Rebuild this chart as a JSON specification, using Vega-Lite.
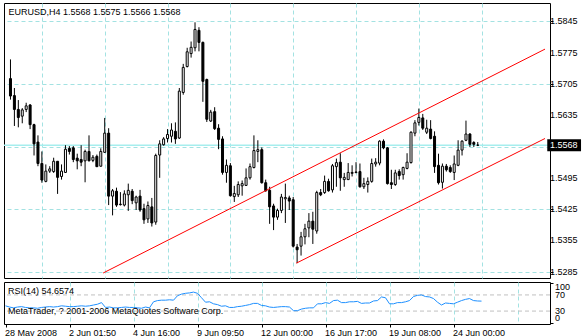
{
  "$schema": "https://vega.github.io/schema/vega-lite/v6.json",
  "padding": {"left": 2, "top": 2, "right": 0, "bottom": 0},
  "background": "#ffffff",
  "spacing": 4,
  "bounds": "flush",
  "config": {
    "view": {"stroke": "#000000", "strokeWidth": 1},
    "font": "Liberation Sans",
    "axis": {"labelFont": "Liberation Sans", "labelFontSize": 9, "labelColor": "#000000", "tickColor": "#000000", "domain": false, "title": null, "labelFlush": false, "labelOverlap": false}
  },
  "datasets": {
    "candles": [
      {"bar":0,"open":1.5717,"high":1.5760,"low":1.5670,"close":1.5678},
      {"bar":1,"open":1.5679,"high":1.5696,"low":1.5611,"close":1.5648},
      {"bar":2,"open":1.5648,"high":1.5669,"low":1.5608,"close":1.5630},
      {"bar":3,"open":1.5633,"high":1.5651,"low":1.5617,"close":1.5647},
      {"bar":4,"open":1.5648,"high":1.5663,"low":1.5642,"close":1.5656},
      {"bar":5,"open":1.5658,"high":1.5660,"low":1.5604,"close":1.5614},
      {"bar":6,"open":1.5614,"high":1.5616,"low":1.5545,"close":1.5571},
      {"bar":7,"open":1.5575,"high":1.5590,"low":1.5521,"close":1.5527},
      {"bar":8,"open":1.5527,"high":1.5554,"low":1.5484,"close":1.5490},
      {"bar":9,"open":1.5487,"high":1.5525,"low":1.5485,"close":1.5510},
      {"bar":10,"open":1.5510,"high":1.5521,"low":1.5506,"close":1.5515},
      {"bar":11,"open":1.5509,"high":1.5540,"low":1.5506,"close":1.5532},
      {"bar":12,"open":1.5532,"high":1.5532,"low":1.5459,"close":1.5496},
      {"bar":13,"open":1.5498,"high":1.5525,"low":1.5491,"close":1.5510},
      {"bar":14,"open":1.5507,"high":1.5568,"low":1.5506,"close":1.5559},
      {"bar":15,"open":1.5561,"high":1.5566,"low":1.5547,"close":1.5554},
      {"bar":16,"open":1.5562,"high":1.5566,"low":1.5530,"close":1.5536},
      {"bar":17,"open":1.5539,"high":1.5549,"low":1.5514,"close":1.5533},
      {"bar":18,"open":1.5536,"high":1.5568,"low":1.5521,"close":1.5530},
      {"bar":19,"open":1.5533,"high":1.5558,"low":1.5485,"close":1.5554},
      {"bar":20,"open":1.5554,"high":1.5590,"low":1.5532,"close":1.5533},
      {"bar":21,"open":1.5534,"high":1.5546,"low":1.5530,"close":1.5541},
      {"bar":22,"open":1.5543,"high":1.5547,"low":1.5519,"close":1.5520},
      {"bar":23,"open":1.5521,"high":1.5561,"low":1.5520,"close":1.5554},
      {"bar":24,"open":1.5552,"high":1.5629,"low":1.5551,"close":1.5595},
      {"bar":25,"open":1.5595,"high":1.5606,"low":1.5434,"close":1.5454},
      {"bar":26,"open":1.5454,"high":1.5470,"low":1.5411,"close":1.5466},
      {"bar":27,"open":1.5465,"high":1.5473,"low":1.5430,"close":1.5434},
      {"bar":28,"open":1.5436,"high":1.5463,"low":1.5433,"close":1.5435},
      {"bar":29,"open":1.5434,"high":1.5467,"low":1.5431,"close":1.5459},
      {"bar":30,"open":1.5457,"high":1.5482,"low":1.5421,"close":1.5467},
      {"bar":31,"open":1.5465,"high":1.5470,"low":1.5436,"close":1.5444},
      {"bar":32,"open":1.5439,"high":1.5455,"low":1.5423,"close":1.5452},
      {"bar":33,"open":1.5454,"high":1.5468,"low":1.5419,"close":1.5423},
      {"bar":34,"open":1.5426,"high":1.5437,"low":1.5392,"close":1.5401},
      {"bar":35,"open":1.5403,"high":1.5442,"low":1.5394,"close":1.5433},
      {"bar":36,"open":1.5430,"high":1.5450,"low":1.5386,"close":1.5394},
      {"bar":37,"open":1.5396,"high":1.5549,"low":1.5390,"close":1.5545},
      {"bar":38,"open":1.5546,"high":1.5579,"low":1.5495,"close":1.5571},
      {"bar":39,"open":1.5569,"high":1.5586,"low":1.5567,"close":1.5582},
      {"bar":40,"open":1.5583,"high":1.5604,"low":1.5574,"close":1.5592},
      {"bar":41,"open":1.5588,"high":1.5617,"low":1.5574,"close":1.5602},
      {"bar":42,"open":1.5599,"high":1.5619,"low":1.5571,"close":1.5582},
      {"bar":43,"open":1.5584,"high":1.5696,"low":1.5582,"close":1.5689},
      {"bar":44,"open":1.5686,"high":1.5750,"low":1.5681,"close":1.5742},
      {"bar":45,"open":1.5744,"high":1.5786,"low":1.5742,"close":1.5777},
      {"bar":46,"open":1.5773,"high":1.5800,"low":1.5764,"close":1.5787},
      {"bar":47,"open":1.5786,"high":1.5843,"low":1.5778,"close":1.5827},
      {"bar":48,"open":1.5825,"high":1.5832,"low":1.5778,"close":1.5798},
      {"bar":49,"open":1.5798,"high":1.5800,"low":1.5665,"close":1.5711},
      {"bar":50,"open":1.5715,"high":1.5717,"low":1.5620,"close":1.5626},
      {"bar":51,"open":1.5622,"high":1.5647,"low":1.5620,"close":1.5642},
      {"bar":52,"open":1.5643,"high":1.5653,"low":1.5602,"close":1.5605},
      {"bar":53,"open":1.5606,"high":1.5615,"low":1.5559,"close":1.5581},
      {"bar":54,"open":1.5582,"high":1.5588,"low":1.5502,"close":1.5507},
      {"bar":55,"open":1.5507,"high":1.5536,"low":1.5484,"close":1.5523},
      {"bar":56,"open":1.5522,"high":1.5528,"low":1.5453,"close":1.5455},
      {"bar":57,"open":1.5453,"high":1.5477,"low":1.5441,"close":1.5460},
      {"bar":58,"open":1.5457,"high":1.5487,"low":1.5452,"close":1.5480},
      {"bar":59,"open":1.5477,"high":1.5489,"low":1.5455,"close":1.5482},
      {"bar":60,"open":1.5478,"high":1.5516,"low":1.5477,"close":1.5495},
      {"bar":61,"open":1.5495,"high":1.5527,"low":1.5491,"close":1.5520},
      {"bar":62,"open":1.5518,"high":1.5590,"low":1.5516,"close":1.5556},
      {"bar":63,"open":1.5554,"high":1.5579,"low":1.5530,"close":1.5558},
      {"bar":64,"open":1.5558,"high":1.5563,"low":1.5482,"close":1.5484},
      {"bar":65,"open":1.5484,"high":1.5491,"low":1.5464,"close":1.5466},
      {"bar":66,"open":1.5467,"high":1.5475,"low":1.5392,"close":1.5430},
      {"bar":67,"open":1.5432,"high":1.5437,"low":1.5378,"close":1.5407},
      {"bar":68,"open":1.5407,"high":1.5426,"low":1.5401,"close":1.5422},
      {"bar":69,"open":1.5422,"high":1.5459,"low":1.5416,"close":1.5452},
      {"bar":70,"open":1.5448,"high":1.5482,"low":1.5394,"close":1.5451},
      {"bar":71,"open":1.5450,"high":1.5455,"low":1.5423,"close":1.5443},
      {"bar":72,"open":1.5446,"high":1.5452,"low":1.5339,"close":1.5342},
      {"bar":73,"open":1.5340,"high":1.5347,"low":1.5304,"close":1.5334},
      {"bar":74,"open":1.5342,"high":1.5374,"low":1.5321,"close":1.5363},
      {"bar":75,"open":1.5363,"high":1.5392,"low":1.5346,"close":1.5381},
      {"bar":76,"open":1.5383,"high":1.5416,"low":1.5362,"close":1.5398},
      {"bar":77,"open":1.5398,"high":1.5419,"low":1.5347,"close":1.5380},
      {"bar":78,"open":1.5376,"high":1.5466,"low":1.5370,"close":1.5462},
      {"bar":79,"open":1.5462,"high":1.5470,"low":1.5454,"close":1.5457},
      {"bar":80,"open":1.5462,"high":1.5500,"low":1.5459,"close":1.5487},
      {"bar":81,"open":1.5487,"high":1.5493,"low":1.5464,"close":1.5466},
      {"bar":82,"open":1.5468,"high":1.5526,"low":1.5462,"close":1.5522},
      {"bar":83,"open":1.5520,"high":1.5538,"low":1.5475,"close":1.5529},
      {"bar":84,"open":1.5530,"high":1.5550,"low":1.5466,"close":1.5495},
      {"bar":85,"open":1.5491,"high":1.5506,"low":1.5475,"close":1.5496},
      {"bar":86,"open":1.5491,"high":1.5528,"low":1.5490,"close":1.5507},
      {"bar":87,"open":1.5505,"high":1.5523,"low":1.5498,"close":1.5507},
      {"bar":88,"open":1.5507,"high":1.5530,"low":1.5505,"close":1.5508},
      {"bar":89,"open":1.5509,"high":1.5527,"low":1.5473,"close":1.5475},
      {"bar":90,"open":1.5475,"high":1.5495,"low":1.5470,"close":1.5482},
      {"bar":91,"open":1.5480,"high":1.5496,"low":1.5462,"close":1.5487},
      {"bar":92,"open":1.5487,"high":1.5538,"low":1.5484,"close":1.5527},
      {"bar":93,"open":1.5526,"high":1.5539,"low":1.5520,"close":1.5530},
      {"bar":94,"open":1.5528,"high":1.5579,"low":1.5523,"close":1.5577},
      {"bar":95,"open":1.5577,"high":1.5581,"low":1.5559,"close":1.5562},
      {"bar":96,"open":1.5562,"high":1.5564,"low":1.5480,"close":1.5482},
      {"bar":97,"open":1.5484,"high":1.5513,"low":1.5470,"close":1.5480},
      {"bar":98,"open":1.5480,"high":1.5513,"low":1.5477,"close":1.5506},
      {"bar":99,"open":1.5509,"high":1.5514,"low":1.5491,"close":1.5500},
      {"bar":100,"open":1.5502,"high":1.5520,"low":1.5491,"close":1.5518},
      {"bar":101,"open":1.5516,"high":1.5550,"low":1.5514,"close":1.5530},
      {"bar":102,"open":1.5529,"high":1.5599,"low":1.5527,"close":1.5597},
      {"bar":103,"open":1.5595,"high":1.5624,"low":1.5588,"close":1.5618},
      {"bar":104,"open":1.5619,"high":1.5650,"low":1.5612,"close":1.5630},
      {"bar":105,"open":1.5629,"high":1.5638,"low":1.5602,"close":1.5606},
      {"bar":106,"open":1.5597,"high":1.5625,"low":1.5593,"close":1.5606},
      {"bar":107,"open":1.5604,"high":1.5624,"low":1.5581,"close":1.5583},
      {"bar":108,"open":1.5588,"high":1.5599,"low":1.5506,"close":1.5520},
      {"bar":109,"open":1.5523,"high":1.5549,"low":1.5480,"close":1.5484},
      {"bar":110,"open":1.5485,"high":1.5527,"low":1.5471,"close":1.5521},
      {"bar":111,"open":1.5521,"high":1.5526,"low":1.5509,"close":1.5513},
      {"bar":112,"open":1.5518,"high":1.5523,"low":1.5506,"close":1.5509},
      {"bar":113,"open":1.5507,"high":1.5545,"low":1.5490,"close":1.5526},
      {"bar":114,"open":1.5523,"high":1.5579,"low":1.5521,"close":1.5557},
      {"bar":115,"open":1.5557,"high":1.5579,"low":1.5545,"close":1.5577},
      {"bar":116,"open":1.5579,"high":1.5623,"low":1.5577,"close":1.5593},
      {"bar":117,"open":1.5593,"high":1.5595,"low":1.5564,"close":1.5570},
      {"bar":118,"open":1.5574,"high":1.5577,"low":1.5564,"close":1.5570},
      {"bar":119,"open":1.5568,"high":1.5575,"low":1.5566,"close":1.5568}
    ],
    "rsi": [
      {"bar":0,"rsi":43},{"bar":1,"rsi":40},{"bar":2,"rsi":38},{"bar":3,"rsi":40},{"bar":4,"rsi":41},
      {"bar":5,"rsi":39},{"bar":6,"rsi":38},{"bar":7,"rsi":38},{"bar":8,"rsi":37},{"bar":9,"rsi":39},
      {"bar":10,"rsi":40},{"bar":11,"rsi":41},{"bar":12,"rsi":40},{"bar":13,"rsi":41},{"bar":14,"rsi":43},
      {"bar":15,"rsi":42},{"bar":16,"rsi":41},{"bar":17,"rsi":41},{"bar":18,"rsi":42},{"bar":19,"rsi":43},
      {"bar":20,"rsi":42},{"bar":21,"rsi":43},{"bar":22,"rsi":45},{"bar":23,"rsi":47},{"bar":24,"rsi":51},
      {"bar":25,"rsi":39},{"bar":26,"rsi":40},{"bar":27,"rsi":38},{"bar":28,"rsi":38},{"bar":29,"rsi":39},
      {"bar":30,"rsi":40},{"bar":31,"rsi":39},{"bar":32,"rsi":39},{"bar":33,"rsi":38},{"bar":34,"rsi":37},
      {"bar":35,"rsi":40},{"bar":36,"rsi":38},{"bar":37,"rsi":53},{"bar":38,"rsi":56},{"bar":39,"rsi":57},
      {"bar":40,"rsi":57},{"bar":41,"rsi":58},{"bar":42,"rsi":57},{"bar":43,"rsi":68},{"bar":44,"rsi":72},
      {"bar":45,"rsi":74},{"bar":46,"rsi":75},{"bar":47,"rsi":77},{"bar":48,"rsi":74},{"bar":49,"rsi":63},
      {"bar":50,"rsi":52},{"bar":51,"rsi":53},{"bar":52,"rsi":48},{"bar":53,"rsi":46},{"bar":54,"rsi":42},
      {"bar":55,"rsi":43},{"bar":56,"rsi":39},{"bar":57,"rsi":39},{"bar":58,"rsi":41},{"bar":59,"rsi":42},
      {"bar":60,"rsi":44},{"bar":61,"rsi":46},{"bar":62,"rsi":49},{"bar":63,"rsi":49},{"bar":64,"rsi":44},
      {"bar":65,"rsi":43},{"bar":66,"rsi":40},{"bar":67,"rsi":39},{"bar":68,"rsi":40},{"bar":69,"rsi":41},
      {"bar":70,"rsi":41},{"bar":71,"rsi":40},{"bar":72,"rsi":31},{"bar":73,"rsi":31},{"bar":74,"rsi":35},
      {"bar":75,"rsi":37},{"bar":76,"rsi":38},{"bar":77,"rsi":38},{"bar":78,"rsi":48},{"bar":79,"rsi":48},
      {"bar":80,"rsi":51},{"bar":81,"rsi":49},{"bar":82,"rsi":56},{"bar":83,"rsi":57},{"bar":84,"rsi":51},
      {"bar":85,"rsi":51},{"bar":86,"rsi":53},{"bar":87,"rsi":53},{"bar":88,"rsi":54},{"bar":89,"rsi":49},
      {"bar":90,"rsi":50},{"bar":91,"rsi":50},{"bar":92,"rsi":55},{"bar":93,"rsi":56},{"bar":94,"rsi":65},
      {"bar":95,"rsi":63},{"bar":96,"rsi":48},{"bar":97,"rsi":48},{"bar":98,"rsi":51},{"bar":99,"rsi":51},
      {"bar":100,"rsi":53},{"bar":101,"rsi":56},{"bar":102,"rsi":66},{"bar":103,"rsi":69},{"bar":104,"rsi":70},
      {"bar":105,"rsi":66},{"bar":106,"rsi":65},{"bar":107,"rsi":61},{"bar":108,"rsi":52},{"bar":109,"rsi":45},
      {"bar":110,"rsi":50},{"bar":111,"rsi":49},{"bar":112,"rsi":48},{"bar":113,"rsi":52},{"bar":114,"rsi":56},
      {"bar":115,"rsi":59},{"bar":116,"rsi":61},{"bar":117,"rsi":56},{"bar":118,"rsi":55},{"bar":119,"rsi":54.66}
    ],
    "channel": [
      {"line":"upper","bar":23.6,"price":1.5282},
      {"line":"upper","bar":136.125,"price":1.5783},
      {"line":"lower","bar":72.8,"price":1.5304},
      {"line":"lower","bar":136.125,"price":1.5583}
    ],
    "bid": [{"price":1.5568,"label":"1.5568"}],
    "priceLabels": [
      {"price":1.5845,"label":"1.5845"},{"price":1.5775,"label":"1.5775"},{"price":1.5705,"label":"1.5705"},
      {"price":1.5635,"label":"1.5635"},{"price":1.5495,"label":"1.5495"},{"price":1.5425,"label":"1.5425"},
      {"price":1.5355,"label":"1.5355"},{"price":1.5285,"label":"1.5285"}
    ],
    "levels": [{"level":70},{"level":30}],
    "rsiLabels": [{"level":100,"label":"100"},{"level":70,"label":"70"},{"level":30,"label":"30"},{"level":0,"label":"0"}]
  },
  "vconcat": [
    {
      "width": 546,
      "height": 275,
      "title": {"text": "EURUSD,H4  1.5568 1.5575 1.5566 1.5568", "anchor": "start", "frame": "group", "offset": -14, "dx": 4.5, "fontSize": 9, "fontWeight": "normal", "font": "Liberation Sans", "color": "#000000"},
      "layer": [
        {
          "data": {"name": "bid"},
          "mark": {"type": "rule", "color": "#a6eeee", "strokeWidth": 1.5},
          "encoding": {
            "y": {"field": "price", "type": "quantitative",
              "scale": {"domain": [1.5282, 1.5875], "nice": false, "zero": false},
              "axis": {"orient": "right", "values": [1.5285,1.5355,1.5425,1.5495,1.5565,1.5635,1.5705,1.5775,1.5845],
                "labels": false,
                "grid": true, "gridColor": "#a3e2e2", "gridDash": [4,3], "tickSize": 3}}
          }
        },
        {
          "data": {"name": "candles"},
          "mark": {"type": "rule", "color": "#000000", "strokeWidth": 1},
          "encoding": {
            "x": {"field": "bar", "type": "quantitative",
              "scale": {"domain": [-0.375, 136.125], "nice": false, "zero": false},
              "axis": {"values": [8,16,24,32,40,48,56,64,72,80,88,96,104,112,120,128], "labels": false, "ticks": false, "grid": true, "gridColor": "#a3e2e2", "gridDash": [4,3]}},
            "y": {"field": "low", "type": "quantitative"},
            "y2": {"field": "high"}
          }
        },
        {
          "data": {"name": "candles"},
          "mark": {"type": "bar", "orient": "vertical", "size": 2, "stroke": "#000000", "strokeWidth": 1},
          "encoding": {
            "x": {"field": "bar", "type": "quantitative"},
            "y": {"field": "open", "type": "quantitative"},
            "y2": {"field": "close"},
            "fill": {"condition": {"test": "datum.close >= datum.open", "value": "#ffffff"}, "value": "#000000"}
          }
        },
        {
          "data": {"name": "channel"},
          "mark": {"type": "line", "color": "#ff0000", "strokeWidth": 1, "clip": true},
          "encoding": {
            "x": {"field": "bar", "type": "quantitative"},
            "y": {"field": "price", "type": "quantitative"},
            "detail": {"field": "line"}
          }
        },
        {
          "data": {"name": "priceLabels"},
          "mark": {"type": "text", "align": "left", "baseline": "middle", "color": "#000000", "fontSize": 9, "font": "Liberation Sans", "clip": false},
          "encoding": {
            "y": {"field": "price", "type": "quantitative"},
            "x": {"datum": 137.4},
            "text": {"field": "label"}
          }
        },
        {
          "data": {"name": "bid"},
          "mark": {"type": "bar", "orient": "horizontal", "size": 12, "color": "#000000", "clip": false},
          "encoding": {
            "y": {"field": "price", "type": "quantitative"},
            "x": {"datum": 136.7},
            "x2": {"datum": 145.3}
          }
        },
        {
          "data": {"name": "bid"},
          "mark": {"type": "text", "align": "left", "baseline": "middle", "color": "#ffffff", "fontSize": 9, "font": "Liberation Sans", "clip": false},
          "encoding": {
            "y": {"field": "price", "type": "quantitative"},
            "x": {"datum": 137.4},
            "text": {"field": "label"}
          }
        }
      ]
    },
    {
      "width": 546,
      "height": 42,
      "title": {"text": "RSI(14) 54.6574", "subtitle": "MetaTrader, ? 2001-2006 MetaQuotes Software Corp.", "anchor": "start", "frame": "group", "offset": -34, "dx": 4, "fontSize": 9, "fontWeight": "normal", "font": "Liberation Sans", "color": "#000000", "subtitleFont": "Liberation Sans", "subtitleFontSize": 9, "subtitleColor": "#000000", "subtitlePadding": 11},
      "layer": [
        {
          "data": {"name": "levels"},
          "mark": {"type": "rule", "color": "#c0c0c0", "strokeDash": [4,3], "strokeWidth": 1},
          "encoding": {
            "y": {"field": "level", "type": "quantitative",
              "scale": {"domain": [-2, 102], "nice": false, "zero": false},
              "axis": {"orient": "right", "values": [0,30,70,100], "grid": false, "tickSize": 3, "labels": false}}
          }
        },
        {
          "data": {"name": "rsi"},
          "mark": {"type": "line", "color": "#1e90ff", "strokeWidth": 1},
          "encoding": {
            "x": {"field": "bar", "type": "quantitative",
              "scale": {"domain": [-0.375, 136.125], "nice": false, "zero": false},
              "axis": {"orient": "bottom", "values": [0,8,16,24,32,40,48,56,64,72,80,88,96,104,112,120,128],
                "labelExpr": "datum.value == 0 ? '28 May 2008' : datum.value == 16 ? '2 Jun 01:50' : datum.value == 32 ? '4 Jun 16:00' : datum.value == 48 ? '9 Jun 09:50' : datum.value == 64 ? '12 Jun 00:00' : datum.value == 80 ? '16 Jun 17:00' : datum.value == 96 ? '19 Jun 08:00' : datum.value == 112 ? '24 Jun 00:00' : ''",
                "labelAlign": "left", "labelBaseline": "top", "labelPadding": 1, "labelOffset": -1, "tickSize": 3,
                "labelOverlap": false, "labelFlush": false,
                "tickColor": {"condition": {"test": "datum.value % 16 == 0 && datum.value <= 112", "value": "#000000"}, "value": "transparent"},
                "grid": true, "gridColor": "#a3e2e2", "gridDash": [4,3],
                "gridOpacity": {"condition": {"test": "datum.value == 0", "value": 0}, "value": 1}}},
            "y": {"field": "rsi", "type": "quantitative"}
          }
        },
        {
          "data": {"name": "rsiLabels"},
          "transform": [{"filter": "datum.level == 100"}],
          "mark": {"type": "text", "align": "left", "baseline": "top", "fontSize": 9, "font": "Liberation Sans", "color": "#000000", "clip": false},
          "encoding": {"y": {"field": "level", "type": "quantitative"}, "x": {"datum": 137.4}, "text": {"field": "label"}}
        },
        {
          "data": {"name": "rsiLabels"},
          "transform": [{"filter": "datum.level == 70 || datum.level == 30"}],
          "mark": {"type": "text", "align": "left", "baseline": "middle", "fontSize": 9, "font": "Liberation Sans", "color": "#000000", "clip": false},
          "encoding": {"y": {"field": "level", "type": "quantitative"}, "x": {"datum": 137.4}, "text": {"field": "label"}}
        },
        {
          "data": {"name": "rsiLabels"},
          "transform": [{"filter": "datum.level == 0"}],
          "mark": {"type": "text", "align": "left", "baseline": "bottom", "fontSize": 9, "font": "Liberation Sans", "color": "#000000", "clip": false},
          "encoding": {"y": {"field": "level", "type": "quantitative"}, "x": {"datum": 137.4}, "text": {"field": "label"}}
        }
      ]
    }
  ]
}
